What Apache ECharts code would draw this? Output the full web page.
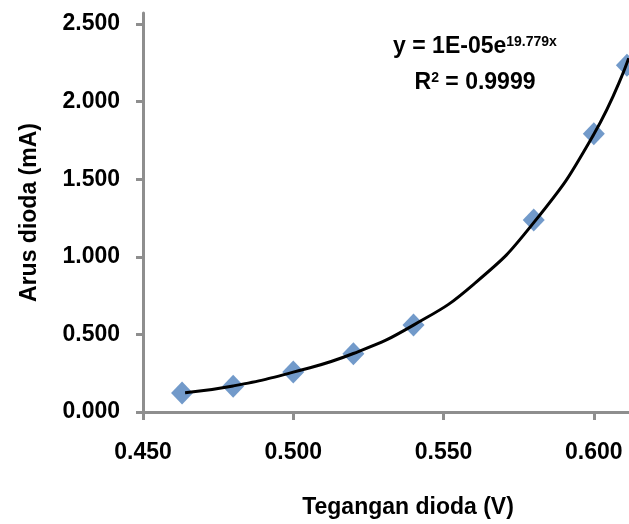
<!DOCTYPE html>
<html>

<head>
    <meta charset="UTF-8" />
    <title>Arus dioda vs Tegangan dioda</title>
    <script src="https://cdn.jsdelivr.net/npm/echarts@6/dist/echarts.min.js"></script>
    <style>
        body { margin: 0; background: #fff; }
    </style>
</head>

<body>
    <div id="chart" style="width: 629px; height: 524px;"></div>

    <script type="text/javascript">
        // titik ukur
        var voltage = [0.463, 0.480, 0.500, 0.520, 0.540, 0.580, 0.600, 0.611];
        var current = [0.123, 0.166, 0.257, 0.375, 0.560, 1.237, 1.793, 2.235];

        // garis trend eksponensial, titik dibaca sepanjang kurva
        var trendX = [0.464, 0.480, 0.500, 0.520, 0.540, 0.560, 0.580, 0.600, 0.6116];
        var trendY = [0.124, 0.168, 0.257, 0.377, 0.560, 0.823, 1.220, 1.790, 2.280];

        var xTicks = [0.450, 0.500, 0.550, 0.600];
        var yTicks = [0, 0.5, 1.0, 1.5, 2.0, 2.5];

        var eqText = 'y = 1E-05e';
        var eqExp = '19.779x';
        var r2Text = ' = 0.9999';

        var font = 'Liberation Sans';
        var axisColor = '#8e8e8e';

        var chart = echarts.init(document.getElementById('chart'));

        let points = voltage.map((v, i) => [v, current[i]]);
        let trend = trendX.map((v, i) => [v, trendY[i]]);

        let option = {
            animation: false,
            grid: { left: 143, right: 0, top: 13, bottom: 112 },
            xAxis: {
                type: 'value',
                min: 0.45,
                max: 0.6117,
                name: 'Tegangan dioda (V)',
                nameLocation: 'middle',
                nameGap: 84,
                nameTextStyle: {
                    fontFamily: font, fontWeight: 'bold', fontSize: 23, color: '#000',
                    padding: [0, 0, 0, 44]
                },
                splitLine: { show: false },
                axisLine: { onZero: false, lineStyle: { color: axisColor, width: 3 } },
                axisTick: { customValues: xTicks, length: 8, lineStyle: { color: axisColor, width: 3 } },
                axisLabel: {
                    customValues: xTicks,
                    margin: 29,
                    fontFamily: font, fontWeight: 'bold', fontSize: 23, color: '#000',
                    formatter: function (value) {
                        return value.toFixed(3);
                    }
                }
            },
            yAxis: {
                type: 'value',
                min: 0,
                max: 2.571,
                name: 'Arus dioda (mA)',
                nameLocation: 'middle',
                nameGap: 102,
                nameTextStyle: { fontFamily: font, fontWeight: 'bold', fontSize: 23, color: '#000' },
                splitLine: { show: false },
                axisLine: { show: true, lineStyle: { color: axisColor, width: 3 } },
                axisTick: { show: true, customValues: yTicks, length: 7, lineStyle: { color: axisColor, width: 3 } },
                axisLabel: {
                    customValues: yTicks,
                    margin: 23,
                    fontFamily: font, fontWeight: 'bold', fontSize: 23, color: '#000',
                    formatter: function (value) {
                        return value.toFixed(3);
                    }
                }
            },
            graphic: [
                {
                    type: 'text',
                    x: 475,
                    y: 47,
                    style: {
                        text: '{a|' + eqText + '}{s|' + eqExp + '}',
                        align: 'center',
                        verticalAlign: 'middle',
                        rich: {
                            a: { fontFamily: font, fontWeight: 'bold', fontSize: 23, fill: '#000' },
                            s: { fontFamily: font, fontWeight: 'bold', fontSize: 14, fill: '#000', verticalAlign: 'top' }
                        }
                    }
                },
                {
                    type: 'text',
                    x: 475,
                    y: 83,
                    style: {
                        text: '{a|R}{s|2}{a|' + r2Text + '}',
                        align: 'center',
                        verticalAlign: 'middle',
                        rich: {
                            a: { fontFamily: font, fontWeight: 'bold', fontSize: 23, fill: '#000' },
                            s: { fontFamily: font, fontWeight: 'bold', fontSize: 14, fill: '#000', verticalAlign: 'top' }
                        }
                    }
                }
            ],
            series: [
                {
                    name: 'data',
                    type: 'scatter',
                    symbol: 'diamond',
                    symbolSize: [22, 23],
                    itemStyle: { color: '#4f81bd' },
                    data: points,
                    z: 2
                },
                {
                    name: 'trend',
                    type: 'line',
                    smooth: true,
                    showSymbol: false,
                    lineStyle: { color: '#000', width: 3 },
                    data: trend,
                    z: 3
                }
            ]
        };
        chart.setOption(option);
    </script>
</body>

</html>
